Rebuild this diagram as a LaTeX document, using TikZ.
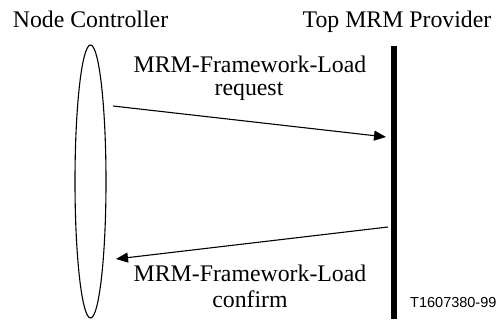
\documentclass[tikz,border=0pt]{standalone}
\usepackage{fontspec}
\setmainfont{Liberation Serif}
\newfontfamily\labelsans{Liberation Sans}
\usetikzlibrary{shapes.geometric,arrows.meta}
\begin{document}
\begin{tikzpicture}[x=1pt,y=-1pt,
  lbl/.style={font=\fontsize{23.8}{27}\selectfont, inner sep=0pt, anchor=base},
  msg/.style={line width=1.1pt, -{Triangle[length=12pt,width=10pt]}},
]
\useasboundingbox (0,0) rectangle (503,320);
% entities
\node[lbl] (nc) at (90.5,28) {Node Controller};
\node[lbl] (tp) at (397,28) {Top MRM Provider};
\node[draw, ellipse, line width=1.1pt, minimum width=31pt, minimum height=273pt, inner sep=0pt] (life) at (90.5,181.5) {};
\node[fill=black, inner sep=0pt, minimum width=6pt, minimum height=273pt] (bar) at (394,182.5) {};
% messages
\coordinate (reqA) at (113,106);
\coordinate (reqB) at (386,137);
\coordinate (cnfA) at (388,227);
\coordinate (cnfB) at (116,259);
\draw[msg] (reqA) -- (reqB);
\draw[msg] (cnfA) -- (cnfB);
% labels
\node[lbl] (rq1) at (250,73) {MRM-Framework-Load};
\node[lbl] (rq2) at (249,96) {request};
\node[lbl] (cf1) at (250,282) {MRM-Framework-Load};
\node[lbl] (cf2) at (250,307) {confirm};
\node[font=\labelsans\fontsize{14.5}{16}\selectfont, inner sep=0pt, anchor=base west] (ref) at (410,307) {T1607380-99};
\end{tikzpicture}
\end{document}
